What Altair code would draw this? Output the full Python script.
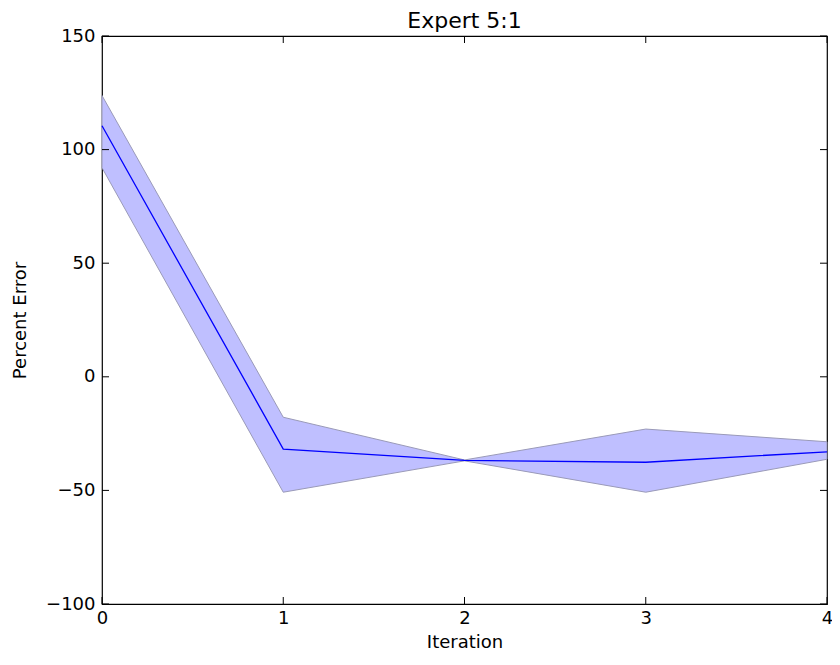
import altair as alt
import pandas as pd

iterations = [0, 1, 2, 3, 4]
mean_err = [110.5, -31.8, -36.8, -37.6, -33.0]
upper_err = [123.8, -17.8, -36.6, -23.0, -28.6]
lower_err = [92.0, -50.8, -37.0, -50.8, -36.3]
x_ticks = [0, 1, 2, 3, 4]
y_ticks = [-100, -50, 0, 50, 100, 150]
chart_title = ["Expert 5:1"]

df = pd.DataFrame({"it": iterations, "mean": mean_err, "lo": lower_err, "hi": upper_err})
xt = pd.DataFrame({"v": x_ticks})
yt = pd.DataFrame({"v": y_ticks})
tt = pd.DataFrame({"t": chart_title})

W, H = 725, 568
FONT = "DejaVu Sans"
LS = 18

xs = alt.Scale(domain=[0, 4], nice=False, zero=False)
ys = alt.Scale(domain=[-100, 150], nice=False, zero=False)

x_axis = alt.Axis(values=x_ticks, ticks=False, grid=False, domain=False, labelFontSize=LS,
                  labelFont=FONT, labelColor="black", labelPadding=5, title="Iteration",
                  titleFont=FONT, titleFontSize=LS, titleFontWeight="normal", titleColor="black",
                  titlePadding=6, format="d", labelFlush=False)
y_axis = alt.Axis(values=y_ticks, ticks=False, grid=False, domain=False, labelFontSize=LS,
                  labelFont=FONT, labelColor="black", labelPadding=7, title="Percent Error",
                  titleFont=FONT, titleFontSize=LS, titleFontWeight="normal", titleColor="black",
                  titlePadding=16, format="d", labelFlush=False)

band = alt.Chart(df).mark_area(color="#bfbfff", opacity=1, stroke="#9a9ab8", strokeWidth=1).encode(
    x=alt.X("it:Q", scale=xs, axis=x_axis),
    y=alt.Y("hi:Q", scale=ys, axis=y_axis),
    y2="lo:Q",
)
line = alt.Chart(df).mark_line(color="#0000ff", strokeWidth=1.3).encode(
    x=alt.X("it:Q", scale=xs), y=alt.Y("mean:Q", scale=ys)
)

TL = 7
xb = alt.Chart(xt).mark_rule(color="black").encode(
    x=alt.X("v:Q", scale=xs), y=alt.value(H), y2=alt.value(H - TL))
xtp = alt.Chart(xt).mark_rule(color="black").encode(
    x=alt.X("v:Q", scale=xs), y=alt.value(0), y2=alt.value(TL))
yl = alt.Chart(yt).mark_rule(color="black").encode(
    y=alt.Y("v:Q", scale=ys), x=alt.value(0), x2=alt.value(TL))
yr = alt.Chart(yt).mark_rule(color="black").encode(
    y=alt.Y("v:Q", scale=ys), x=alt.value(W), x2=alt.value(W - TL))

title = alt.Chart(tt).mark_text(font=FONT, fontSize=22, color="black", align="center",
                                baseline="alphabetic").encode(
    text="t:N", x=alt.value(W / 2), y=alt.value(-8))

chart = alt.layer(band, line, xb, xtp, yl, yr, title).properties(
    width=W, height=H,
    background="white",
    autosize=alt.AutoSizeParams(type="none"),
    padding={"left": 94, "top": 28, "right": 5, "bottom": 50},
).configure_view(stroke="black", strokeWidth=1.2)

chart.save("out.html", embed_options={"renderer": "svg", "actions": False})
